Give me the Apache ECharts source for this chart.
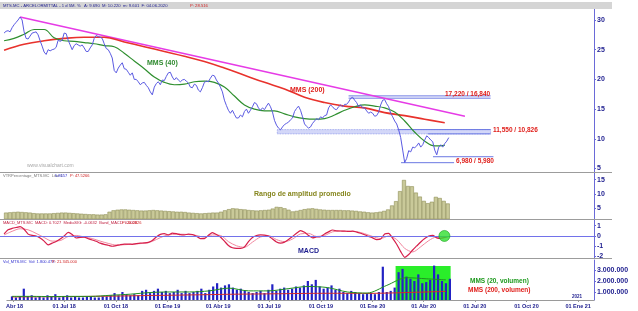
<!DOCTYPE html>
<html><head><meta charset="utf-8">
<script src="https://cdn.jsdelivr.net/npm/echarts@6/dist/echarts.min.js"></script>
<style>html,body{margin:0;padding:0;background:#fff}#c{width:638px;height:311px}</style>
</head><body><div id="c"></div>
<script>
// ---------- DATA ----------
const T0 = '2018-03-30';          // first price sample
const STEP_DAYS = 3.512;          // spacing of price samples (days)
const price = [
27.8,28.1,28.2,28.0,28.7,29.2,29.6,30.0,30.5,30.0,
28.0,26.9,26.8,27.3,27.8,27.9,28.0,27.5,26.5,25.6,
24.6,24.2,25.0,24.8,25.0,25.1,25.4,26.6,26.4,26.6,
27.8,27.7,26.6,25.8,25.0,25.7,26.0,25.8,25.6,25.8,
25.3,24.7,24.7,25.3,25.8,26.9,27.4,27.2,27.1,26.9,
26.0,25.2,25.0,24.4,23.6,21.5,21.1,21.9,22.4,22.8,
21.8,21.7,21.2,20.7,21.1,20.0,20.0,19.6,19.1,19.4,
19.5,19.0,18.6,17.9,17.4,18.7,19.3,19.6,19.1,19.9,
19.8,20.5,21.1,21.2,20.4,19.9,20.3,19.9,19.6,19.9,
20.0,19.7,19.4,18.7,18.6,19.2,19.0,18.2,17.9,18.6,
19.5,19.7,19.6,20.2,20.7,20.6,19.9,19.4,18.7,17.9,
16.5,15.6,14.8,14.3,14.8,14.1,13.5,13.5,14.0,13.7,
14.6,15.0,14.3,14.8,15.4,16.1,15.9,15.2,14.8,15.2,
14.9,15.5,16.0,15.4,14.5,13.1,12.3,11.8,11.5,12.0,
12.4,12.6,12.8,13.2,13.5,14.6,15.1,15.5,14.8,13.7,
12.5,12.1,11.8,12.0,12.6,13.0,13.4,13.2,13.7,13.5,
13.9,14.0,15.2,15.7,15.4,15.0,14.9,15.4,15.7,15.4,
15.8,15.8,16.2,16.8,17.0,16.5,16.1,15.4,15.7,15.2,
15.2,14.7,14.3,14.5,14.3,13.8,13.9,14.5,15.7,16.5,
16.6,15.9,15.4,14.3,13.7,13.0,12.5,11.5,10.2,8.1,
6.0,6.7,8.0,7.8,8.6,8.5,8.8,9.3,8.6,9.0,
9.8,10.5,10.2,9.8,9.5,8.1,7.3,8.6,9.0,8.6,
9.2,9.6,10.2];
// MMS(40): one value every 5 price samples
const mms40 = [
26.5,26.9,27.6,28.4,28.4,27.0,26.5,26.4,26.2,26.0,
25.7,25.5,24.4,23.1,21.8,20.4,19.5,19.1,19.2,19.6,
19.7,19.5,18.7,17.2,15.7,15.0,14.7,14.7,14.2,13.7,
13.4,13.3,13.4,14.0,14.8,15.4,15.7,15.5,15.2,14.5,
13.0,11.1,9.6,8.8,8.9];
// MMS(200): one value every 10 price samples
const mms200 = [24.9,25.9,26.5,26.9,27.1,27.1,26.3,25.5,24.7,23.9,23.0,21.9,20.7,19.5,18.4,17.0,16.1,15.5,15.2,14.4,13.9,13.3,12.7];
const trendLine = [['2018-04-27',30.5],['2020-06-15',13.8]];
const levelLines = [
  ['2019-11-24','2020-07-30',17.22],
  ['2019-11-24','2020-07-30',16.84],
  ['2020-02-18','2020-07-30',11.55],
  ['2020-04-11','2020-07-30',10.826],
  ['2020-04-20','2020-08-04',6.98],
  ['2020-02-24','2020-05-27',5.98]];
const band = ['2019-07-22','2020-07-30',11.55,10.826];
const levelTexts = ['17,220 / 16,840','11,550 / 10,826','6,980 / 5,980'];
// ATR % (one bar every 2 price samples)
const atr = [
3.5,3.6,3.7,3.8,3.7,3.6,3.5,3.3,3.2,3.2,
3.2,3.2,3.3,3.4,3.5,3.5,3.4,3.3,3.2,3.1,
3.0,2.9,2.9,2.8,2.8,2.9,3.8,4.3,4.5,4.6,
4.6,4.5,4.4,4.3,4.2,4.2,4.3,4.4,4.3,4.2,
4.1,4.0,3.9,3.8,3.8,3.7,3.5,3.4,3.3,3.2,
3.3,3.4,3.5,3.5,3.8,4.3,4.7,5.0,4.9,4.7,
4.6,4.4,4.3,4.2,4.3,4.4,4.5,4.9,5.5,5.4,
5.0,4.5,3.9,4.1,4.4,4.7,4.9,5.0,4.8,4.6,
4.5,4.4,4.4,4.4,4.4,4.3,4.3,4.2,4.1,3.9,
3.8,3.6,3.5,3.6,3.8,4.1,4.6,6.0,7.5,11.0,
14.9,12.8,12.7,10.5,9.1,7.6,6.8,7.3,9.0,8.6,
7.6,6.7];
// MACD (every 2 samples) and signal (every 4 samples)
const macd = [
0.2,0.6,0.73,0.82,0.9,0.65,0.18,0.05,0.0,-0.2,
-0.5,-0.87,-0.7,-0.53,-0.3,0.0,0.35,0.15,-0.2,-0.13,
-0.12,-0.26,-0.39,-0.52,-0.7,-0.82,-0.9,-1.0,-0.94,-0.85,
-0.79,-0.79,-0.81,-0.75,-0.7,-0.67,-0.62,-0.45,-0.1,0.15,
0.23,0.1,0.28,0.22,0.13,0.11,0.17,0.14,-0.03,-0.26,
-0.25,0.06,0.32,0.14,-0.1,-0.5,-0.93,-1.15,-1.2,-1.2,
-1.07,-0.55,-0.15,0.05,0.1,0.08,0.0,-0.3,-0.58,-0.69,
-0.6,-0.35,-0.05,0.26,0.52,0.35,0.05,-0.18,-0.1,-0.07,
0.2,0.4,0.58,0.5,0.48,0.47,0.44,0.46,0.38,0.26,
0.12,-0.04,-0.19,-0.36,-0.3,0.2,0.26,-0.23,-0.8,-1.52,
-2.07,-1.8,-1.36,-0.97,-0.58,-0.25,-0.02,0.05,-0.18,-0.23,
-0.15,-0.05];
const signal = [
0.1,0.45,0.7,0.6,0.25,-0.15,-0.5,-0.45,-0.05,0.05,
-0.1,-0.25,-0.5,-0.72,-0.88,-0.85,-0.8,-0.74,-0.66,-0.35,
0.0,0.15,0.17,0.14,0.05,-0.12,0.1,0.05,-0.55,-0.95,
-1.1,-0.6,-0.1,0.03,-0.35,-0.55,-0.3,0.2,0.25,-0.05,
0.05,0.4,0.48,0.45,0.42,0.22,-0.05,-0.25,0.0,-0.35,
-1.2,-1.55,-1.05,-0.45,-0.1,-0.12];
const macdMarker = [['2020-05-10',0.0]];
// Volume (millions, every 2 samples) and its averages (every 10 samples)
const volume = [
0.6,0.5,0.6,1.3,0.6,0.7,0.5,0.6,0.5,0.7,
0.6,0.8,0.5,0.6,0.7,0.5,0.6,0.5,0.5,0.6,
0.6,0.5,0.5,0.6,0.6,0.7,0.9,0.7,1.0,0.8,
0.7,0.8,0.7,1.1,1.2,0.9,1.1,1.3,1.0,1.1,
0.9,1.0,1.2,0.9,1.1,0.9,1.0,1.1,1.3,0.9,
1.2,1.5,1.8,1.4,1.6,1.7,1.4,1.2,1.3,1.1,
1.0,0.9,1.0,1.1,0.9,1.2,1.7,1.1,1.3,1.4,
1.2,1.3,1.5,1.4,1.6,2.0,1.7,2.1,1.5,1.3,
1.4,1.6,1.2,1.3,1.0,0.9,1.1,1.0,0.9,0.8,
0.9,0.9,0.8,1.0,3.3,1.0,1.1,1.4,2.8,3.1,
2.4,2.2,2.0,2.6,1.8,1.9,2.1,3.4,2.6,2.0,
1.8,2.2];
const volMms200 = [0.55,0.56,0.57,0.58,0.6,0.62,0.65,0.68,0.7,0.73,0.76,0.79,0.81,0.83,0.85,0.87,0.88,0.88,0.87,0.9,0.95,1.0,1.05];
const volMms20  = [0.6,0.6,0.58,0.6,0.6,0.7,0.8,0.95,1.0,1.0,1.1,1.35,1.1,1.1,1.3,1.5,1.4,1.0,0.9,1.6,2.3,2.2,2.1];
const volBox = ['2020-02-11','2020-05-19',3.36];
const priceTicks = [5,10,15,20,25,30];
const atrTicks = [5,10,15];
const macdTicks = [1,0,-1,-2];
const volTicks = [1,2,3];
const monthNames = ['Ene','Feb','Mar','Abr','May','Jun','Jul','Ago','Sep','Oct','Nov','Dic'];

// ---------- CHART ----------
const DAY = 86400000;
const D = s => Date.parse(s + 'T00:00:00Z');
const t0 = D(T0);
const at = (i, k) => t0 + i * k * STEP_DAYS * DAY;
const XMIN = t0 - 7.13 * DAY, XMAX = t0 + 1034.3 * DAY;
const NAVY = '#1c1c8e', AX = '#6a6ad8';
const FONT = 'Liberation Sans, Arial, sans-serif';

const grids = [
  {left:0, right:44, top:9, height:163},
  {left:0, right:44, top:173, height:46},
  {left:0, right:44, top:220, height:38},
  {left:0, right:44, top:260, height:40}
];
const xAxes = grids.map((g, n) => ({
  type:'time', gridIndex:n, min:XMIN, max:XMAX,
  splitNumber:11, minInterval:95*DAY, maxInterval:95*DAY,
  show: n === 3,
  splitLine:{show:false},
  axisLine:{show:true, lineStyle:{color:'#9a9a9a', width:1}},
  axisTick:{show:true, length:2, lineStyle:{color:'#9a9a9a'}},
  axisLabel:{
    show:true, color:NAVY, fontSize:5.5, fontWeight:'bold', fontFamily:FONT, margin:3,
    formatter: function (v) {
      const d = new Date(v);
      if (d.getUTCDate() !== 1 || d.getUTCHours() !== 0 || d.getUTCMinutes() !== 0) return '';
      const m = d.getUTCMonth();
      if (m % 3 !== 0) return '';
      const yy = String(d.getUTCFullYear() % 100).padStart(2, '0');
      if (d.getUTCFullYear() === 2018 && m === 3) return '  ' + monthNames[m] + ' ' + yy;
      return '01 ' + monthNames[m] + ' ' + yy;
    }
  }
}));
function yAx(n, min, max, ticks, fmt) {
  return {
    type:'value', gridIndex:n, position:'right', min:min, max:max,
    splitLine:{show:false},
    axisLine:{show:true, lineStyle:{color:AX, width:1}},
    axisTick:{show:true, customValues:ticks, length:2, inside:false, lineStyle:{color:AX}},
    axisLabel:{customValues:ticks, color:NAVY, fontSize:7, fontWeight:'bold', fontFamily:FONT, margin:3,
      formatter: fmt || (v => String(v))}
  };
}
const yAxes = [
  yAx(0, 4.41, 31.85, priceTicks),
  yAx(1, 1.26, 17.34, atrTicks),
  yAx(2, -2.14, 1.55, macdTicks),
  yAx(3, 0.27, 3.91, volTicks, v => (v * 1000000).toString().replace(/\B(?=(\d{3})+(?!\d))/g, '.'))
];

const series = [];
// band (hatched zone between 11.55 and 10.826)
series.push({
  type:'line', xAxisIndex:0, yAxisIndex:0, data:[], silent:true, z:1,
  markArea:{silent:true, itemStyle:{color:'rgba(130,140,235,0.35)', borderColor:'#8c95ea', borderWidth:0.8, borderType:'dotted'},
    data:[[{xAxis:D(band[0]), yAxis:band[2]}, {xAxis:D(band[1]), yAxis:band[3]}]]}
});
levelLines.forEach(l => series.push({
  type:'line', xAxisIndex:0, yAxisIndex:0, showSymbol:false, silent:true, z:2,
  lineStyle:{color:'#6b78e2', width:1}, data:[[D(l[0]), l[2]], [D(l[1]), l[2]]]
}));
series.push({type:'line', xAxisIndex:0, yAxisIndex:0, showSymbol:false, silent:true, z:3,
  lineStyle:{color:'#e63be6', width:1.5}, data:trendLine.map(p => [D(p[0]), p[1]])});
series.push({type:'line', xAxisIndex:0, yAxisIndex:0, showSymbol:false, smooth:0.4, silent:true, z:3,
  lineStyle:{color:'#e8322c', width:1.6}, data:mms200.map((v, i) => [at(i, 10), v])});
series.push({type:'line', xAxisIndex:0, yAxisIndex:0, showSymbol:false, smooth:0.4, silent:true, z:4,
  lineStyle:{color:'#2f8f2f', width:1.2}, data:mms40.map((v, i) => [at(i, 5), v])});
series.push({type:'line', xAxisIndex:0, yAxisIndex:0, showSymbol:false, silent:true, z:5,
  lineStyle:{color:'#5a5ae2', width:1}, data:price.map((v, i) => [at(i, 1), v])});
// ATR
series.push({type:'bar', xAxisIndex:1, yAxisIndex:1, barWidth:4, silent:true, clip:true,
  itemStyle:{color:'#c9c999', borderColor:'#8e8e55', borderWidth:0.6},
  data:atr.map((v, i) => [at(i, 2), v])});
// MACD
series.push({type:'line', xAxisIndex:2, yAxisIndex:2, showSymbol:false, silent:true, z:2,
  lineStyle:{color:'#f2879f', width:1}, smooth:0.3, data:signal.map((v, i) => [at(i, 4), v]),
  markLine:{silent:true, symbol:['none','none'], label:{show:false}, lineStyle:{color:'#7272ea', width:1, type:'solid'}, data:[{yAxis:0}]}});
series.push({type:'line', xAxisIndex:2, yAxisIndex:2, showSymbol:false, silent:true, z:3,
  lineStyle:{color:'#d61f4b', width:1.2}, smooth:0.2, data:macd.map((v, i) => [at(i, 2), v])});
series.push({type:'scatter', xAxisIndex:2, yAxisIndex:2, silent:true, z:5, symbolSize:11,
  itemStyle:{color:'#2fe02f', borderColor:'#1aa31a', borderWidth:0.8}, data:macdMarker.map(p => [D(p[0]), p[1]])});
// Volume
series.push({type:'line', xAxisIndex:3, yAxisIndex:3, data:[], silent:true, z:1,
  markArea:{silent:true, itemStyle:{color:'#2aee2a'},
    data:[[{xAxis:D(volBox[0]), yAxis:volBox[2]}, {xAxis:D(volBox[1]), yAxis:0.27}]]}});
series.push({type:'bar', xAxisIndex:3, yAxisIndex:3, barWidth:2.2, silent:true, clip:true, z:3,
  itemStyle:{color:'#2222c4'}, data:volume.map((v, i) => [at(i, 2), v])});
series.push({type:'line', xAxisIndex:3, yAxisIndex:3, showSymbol:false, smooth:0.3, silent:true, z:4,
  lineStyle:{color:'#d42a2a', width:1}, data:volMms200.map((v, i) => [at(i, 10), v])});
series.push({type:'line', xAxisIndex:3, yAxisIndex:3, showSymbol:false, smooth:0.3, silent:true, z:4,
  lineStyle:{color:'#1f8f1f', width:1}, data:volMms20.map((v, i) => [at(i, 10), v])});

function txt(x, y, s, color, size, bold, extra) {
  return Object.assign({type:'text', x:x, y:y, silent:true, z:100,
    style:{text:s, fill:color, font:(bold ? 'bold ' : '') + size + 'px ' + FONT, textVerticalAlign:'middle'}}, extra || {});
}
const graphic = [
  {type:'rect', shape:{x:0, y:2, width:612, height:7}, style:{fill:'#d5d5d5'}, silent:true, z:50},
  txt(3, 5.6, 'MTS.MC - ARCELORMITTAL - 1 d 5M. %   A: 9.690  M: 10.220  m: 9.601  F: 04.06.2020', NAVY, 4.2, false),
  txt(190, 5.6, 'P: 28.516', '#d02020', 4.2, false),
  {type:'line', shape:{x1:0, y1:172.5, x2:612, y2:172.5}, style:{stroke:'#9c9c9c', lineWidth:1}, silent:true, z:50},
  {type:'line', shape:{x1:0, y1:219.5, x2:612, y2:219.5}, style:{stroke:'#9c9c9c', lineWidth:1}, silent:true, z:50},
  {type:'line', shape:{x1:0, y1:258.5, x2:612, y2:258.5}, style:{stroke:'#9c9c9c', lineWidth:1}, silent:true, z:50},
  txt(3, 175.5, 'VTRPercentage_MTS.MC  Line 1', '#777', 4, false),
  txt(55, 175.5, '5.8657', '#3030d0', 4, false),
  txt(70, 175.5, 'P: 47.5266', '#d02020', 4, false),
  txt(3, 222.5, 'MACD_MTS.MC  MACD: 0.7027  MediaSIG: -0.0632  Band_MACD: 0.0000', '#c02040', 4, false),
  txt(122, 222.5, 'P: 20.2826', '#d02020', 4, false),
  txt(3, 262, 'Vol_MTS.MC  Vol: 1.800.473', '#3030d0', 4, false),
  txt(52, 262, 'P: 21.345.000', '#d02020', 4, false),
  txt(147, 63.5, 'MMS (40)', '#2f8a2f', 7, true),
  txt(290, 90.5, 'MMS (200)', '#e0201c', 7, true),
  txt(445, 94.5, levelTexts[0], '#e0201c', 6.5, true),
  txt(493, 130.5, levelTexts[1], '#e0201c', 6.5, true),
  txt(456, 161.5, levelTexts[2], '#e0201c', 6.5, true),
  txt(27, 166, 'www.visualchart.com', '#a8a8a8', 5, false),
  txt(254, 194.5, 'Rango de amplitud promedio', '#86861e', 7, true),
  txt(298, 251, 'MACD', NAVY, 7, true),
  txt(470, 281.5, 'MMS (20, volumen)', '#1f9a1f', 6.5, true),
  txt(468, 290.5, 'MMS (200, volumen)', '#e0201c', 6.5, true),
  txt(572, 296.5, '2021', NAVY, 4.5, true)
];

const chart = echarts.init(document.getElementById('c'), null, {renderer:'canvas'});
chart.setOption({
  useUTC:true, animation:false, backgroundColor:'#ffffff',
  grid:grids, xAxis:xAxes, yAxis:yAxes, series:series, graphic:graphic
});
</script>
</body></html>
